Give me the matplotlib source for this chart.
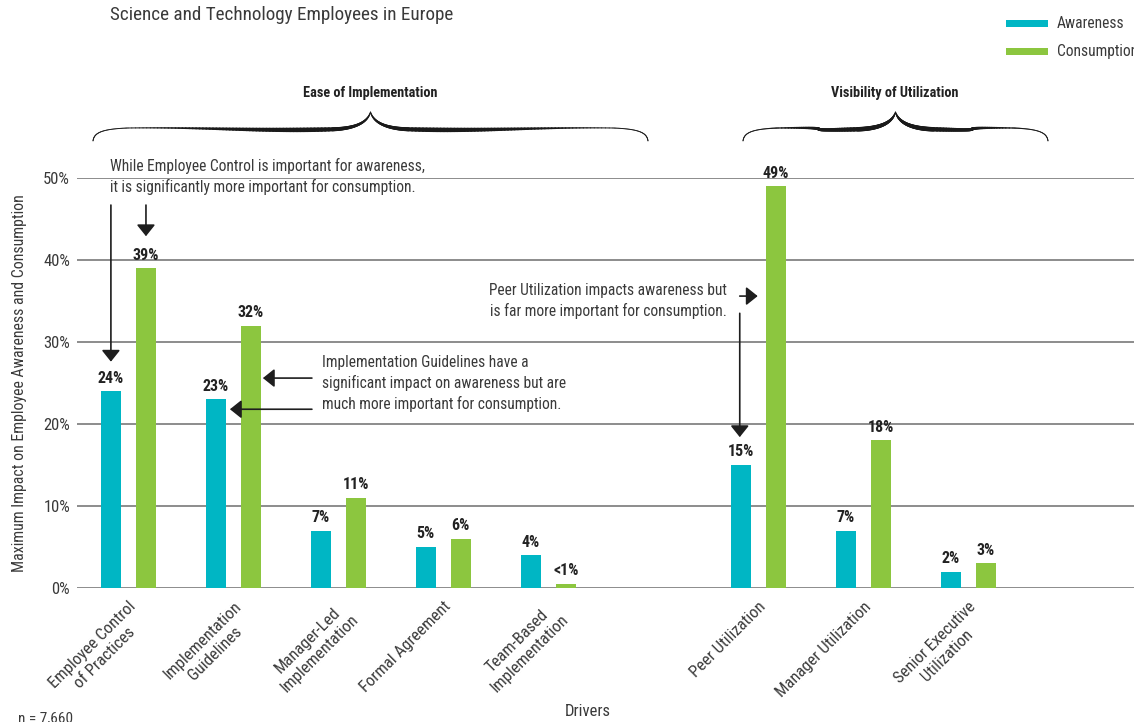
import numpy as np
import matplotlib
matplotlib.use("Agg")
import matplotlib.pyplot as plt
from matplotlib import font_manager as fm
from matplotlib.collections import LineCollection
from matplotlib.patches import Rectangle

# ---- data -------------------------------------------------------------
drivers = [
    "Employee Control\nof Practices",
    "Implementation\nGuidelines",
    "Manager-Led\nImplementation",
    "Formal Agreement",
    "Team-Based\nImplementation",
    "Peer Utilization",
    "Manager Utilization",
    "Senior Executive\nUtilization",
]
driver_groups = ["Ease of Implementation"] * 5 + ["Visibility of Utilization"] * 3
awareness = [24, 23, 7, 5, 4, 15, 7, 2]
consumption = [39, 32, 11, 6, 0.5, 49, 18, 3]
y_ticks = [0, 10, 20, 30, 40, 50]
series_names = ["Awareness", "Consumption"]

TEAL = "#00B6C4"
GREEN = "#8CC63F"
GRID = "#8C8C8C"
TXT = "#3A3A3A"


def pick_font(*names):
    for n in names:
        try:
            fm.findfont(fm.FontProperties(family=n), fallback_to_default=False)
            return n
        except Exception:
            continue
    return "DejaVu Sans"


FONT = pick_font("Liberation Sans Narrow", "Roboto Condensed", "Liberation Sans", "DejaVu Sans")
plt.rcParams["font.family"] = [FONT, "DejaVu Sans"]

# positions: one empty slot between the two driver groups
positions = []
slot = 0
for i, g in enumerate(driver_groups):
    if i > 0 and g != driver_groups[i - 1]:
        slot += 1
    positions.append(slot)
    slot += 1
positions = np.array(positions, dtype=float)

W, H = 1134, 722
fig = plt.figure(figsize=(W / 100, H / 100), dpi=100)
ax = fig.add_axes([77 / W, 134 / H, 1 - 77 / W, 410 / H])

bw = 0.19
off = 0.167
ax.bar(positions - off, awareness, width=bw, color=TEAL, zorder=3)
ax.bar(positions + off, consumption, width=bw, color=GREEN, zorder=3)


def pct(v):
    return "<1%" if v < 1 else f"{v:.0f}%"


for xs, vals in ((positions - off, awareness), (positions + off, consumption)):
    for x, v in zip(xs, vals):
        ax.annotate(pct(v), (x, v), xytext=(0, 4), textcoords="offset points",
                    ha="center", va="bottom", fontsize=11.5, fontweight="bold",
                    color="#222222", zorder=4)

ax.set_xlim(-0.49, 9.58)
ax.set_ylim(0, 50)
ax.set_yticks(y_ticks, [f"{t}%" for t in y_ticks])
ax.yaxis.grid(True, color=GRID, lw=1.4)
ax.set_axisbelow(True)
for s in ax.spines.values():
    s.set_visible(False)
ax.tick_params(axis="y", length=0, pad=5, labelsize=12, labelcolor=TXT)
ax.tick_params(axis="x", length=0, pad=8, labelsize=12, labelcolor=TXT)
ax.set_xticks(positions, drivers)
for lab in ax.get_xticklabels():
    lab.set_rotation(45)
    lab.set_ha("right")
    lab.set_rotation_mode("anchor")
    lab.set_multialignment("center")
    lab.set_linespacing(1.2)

# ---- callouts ---------------------------------------------------------
arrow_kw = dict(arrowstyle="-|>,head_length=0.35,head_width=0.28", mutation_scale=20,
                color="#1E1E1E", lw=1.2, shrinkA=0, shrinkB=0)
NOTE = dict(fontsize=11.2, color=TXT, linespacing=1.38, va="center")


def arrow(start, tip):
    ax.annotate("", xy=tip, xytext=start, arrowprops=arrow_kw, annotation_clip=False)


ax.text(-0.176, 50.2, "While Employee Control is important for awareness,\n"
        "it is significantly more important for consumption.",
        ha="left", clip_on=False, **NOTE)
arrow((-off, 46.7), (-off, 27.6))
arrow((off, 46.7), (off, 42.9))

ax.text(1.843, 24.9, "Implementation Guidelines have a\n"
        "significant impact on awareness but are\n"
        "much more important for consumption.",
        ha="left", **NOTE)
arrow((1.748, 25.6), (1.281, 25.6))
arrow((1.748, 21.8), (0.967, 21.8))

ax.text(5.70, 35.0, "Peer Utilization impacts awareness but\n"
        "is far more important for consumption.",
        ha="right", multialignment="right", **NOTE)
arrow((5.824, 35.6), (5.995, 35.6))
arrow((5.824, 33.5), (5.824, 18.4))

# ---- overlay in pixel space for header, braces, legend ----------------
ov = fig.add_axes([0, 0, 1, 1], zorder=5)
ov.set_xlim(0, W)
ov.set_ylim(H, 0)
ov.axis("off")


def bez(p0, p1, p2, p3, n=60):
    t = np.linspace(0, 1, n)[:, None]
    p0, p1, p2, p3 = map(np.asarray, (p0, p1, p2, p3))
    return (1 - t) ** 3 * p0 + 3 * (1 - t) ** 2 * t * p1 + 3 * (1 - t) * t ** 2 * p2 + t ** 3 * p3


def brace(x0, x1, ye=141, ya=128.5, yc=112):
    xc = (x0 + x1) / 2
    for sgn, xs in ((1, x0), (-1, x1)):
        s1 = bez((xs, ye), (xs + sgn * 1, 133), (xs + sgn * 8, ya + 0.5), (xs + sgn * 35, ya - 0.5))
        s2 = bez((xs + sgn * 35, ya - 0.5), (xs + sgn * 110, ya - 1.5),
                 (xc - sgn * 110, ya + 3), (xc - sgn * 38, ya + 0.8))
        s3 = bez((xc - sgn * 38, ya + 0.8), (xc - sgn * 15, ya), (xc - sgn * 3, ya - 6), (xc, yc))
        pts = np.vstack([s1, s2[1:], s3[1:]])
        d = np.r_[0, np.cumsum(np.hypot(*np.diff(pts, axis=0).T))]
        t = d / d[-1]
        f = t ** 3 * (1 - t)
        wpx = 0.9 + 3.6 * f / 0.1055
        segs = np.stack([pts[:-1], pts[1:]], axis=1)
        lw = (wpx[:-1] + wpx[1:]) / 2 * 0.72
        ov.add_collection(LineCollection(segs, linewidths=lw, colors="#1A1A1A",
                                         capstyle="round"))


brace(93, 648)
brace(743, 1048)
ov.text(370, 93, "Ease of Implementation", ha="center", va="center",
        fontsize=10.3, fontweight="bold", color="#222222")
ov.text(895, 93, "Visibility of Utilization", ha="center", va="center",
        fontsize=10.3, fontweight="bold", color="#222222")

ov.text(110, 15, "Science and Technology Employees in Europe", ha="left", va="center",
        fontsize=13.8, color=TXT)

for (name, col, yc) in zip(series_names, (TEAL, GREEN), (23.5, 51.5)):
    ov.add_patch(Rectangle((1006, yc - 3.5), 42, 7, color=col, lw=0))
    ov.text(1057, yc, name, ha="left", va="center", fontsize=11.2, color=TXT)

ov.text(20, 383, "Maximum Impact on Employee Awareness and Consumption", rotation=90,
        ha="center", va="center", fontsize=11.4, color=TXT)
ov.text(588, 712, "Drivers", ha="center", va="center", fontsize=12, color=TXT)
ov.text(18, 718, "n = 7,660", ha="left", va="center", fontsize=11, color=TXT)

fig.savefig("out.png", dpi=100, facecolor="white")
